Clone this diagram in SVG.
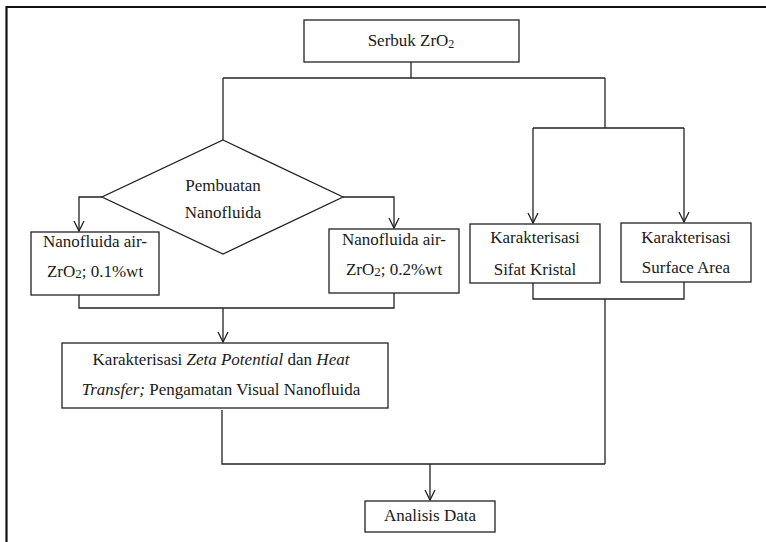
<svg xmlns="http://www.w3.org/2000/svg" width="766" height="542" viewBox="0 0 766 542">
<style>
  .box{fill:#fff;stroke:#222;stroke-width:1.3}
  .ln{fill:none;stroke:#222;stroke-width:1.3}
  .t{font-family:"Liberation Serif","Times New Roman",serif;font-size:17px;fill:#1a1a1a;text-anchor:middle}
  .i{font-style:italic}
  .frame{fill:none;stroke:#111;stroke-width:2.2}
</style>
<defs>
  <marker id="arr" markerUnits="userSpaceOnUse" markerWidth="14" markerHeight="14" viewBox="-12 -7 14 14" refX="0" refY="0" orient="auto">
    <path d="M-10,-5 L0,0 L-10,5" fill="none" stroke="#222" stroke-width="1.3"/>
  </marker>
</defs>
<rect width="766" height="542" fill="#fff"/>
<path class="frame" d="M6.5,542 V7 H766"/>

<g id="connectors">
  <path class="ln" d="M411,62 V78"/>
  <path class="ln" d="M223,78 H605"/>
  <path class="ln" d="M223,78 V140"/>
  <path class="ln" d="M605,78 V128"/>
  <path class="ln" d="M533,128 H684"/>
  <path class="ln" d="M533,128 V223" marker-end="url(#arr)"/>
  <path class="ln" d="M684,128 V222" marker-end="url(#arr)"/>
  <path class="ln" d="M102,197 H79 V231" marker-end="url(#arr)"/>
  <path class="ln" d="M343,197 H394 V228" marker-end="url(#arr)"/>
  <path class="ln" d="M79,295 V308 H394 V293"/>
  <path class="ln" d="M223,308 V342" marker-end="url(#arr)"/>
  <path class="ln" d="M533,283 V299 H684 V282"/>
  <path class="ln" d="M605,299 V464"/>
  <path class="ln" d="M222,410 V464 H605"/>
  <path class="ln" d="M430,464 V500" marker-end="url(#arr)"/>
</g>

<g id="serbuk">
  <rect class="box" x="304" y="20" width="215" height="42"/>
  <text class="t" x="411" y="46">Serbuk ZrO<tspan font-size="12" dy="2">2</tspan></text>
</g>

<g id="pembuatan">
  <polygon class="box" points="223,140 343,197 223,254 102,197"/>
  <text class="t" x="223" y="191">Pembuatan</text>
  <text class="t" x="223" y="218">Nanofluida</text>
</g>

<g id="nano01">
  <rect class="box" x="31" y="232" width="128" height="63"/>
  <text class="t" x="95" y="247">Nanofluida air-</text>
  <text class="t" x="95" y="277">ZrO<tspan font-size="13" dy="1">2</tspan><tspan dy="-1">; 0.1%wt</tspan></text>
</g>

<g id="nano02">
  <rect class="box" x="329" y="229" width="130" height="64"/>
  <text class="t" x="394" y="245">Nanofluida air-</text>
  <text class="t" x="394" y="275">ZrO<tspan font-size="13" dy="1">2</tspan><tspan dy="-1">; 0.2%wt</tspan></text>
</g>

<g id="sifat">
  <rect class="box" x="470" y="224" width="130" height="59"/>
  <text class="t" x="535" y="243">Karakterisasi</text>
  <text class="t" x="535" y="275">Sifat Kristal</text>
</g>

<g id="surface">
  <rect class="box" x="621" y="223" width="130" height="59"/>
  <text class="t" x="686" y="243">Karakterisasi</text>
  <text class="t" x="686" y="273">Surface Area</text>
</g>

<g id="zeta">
  <rect class="box" x="62" y="343" width="326" height="65"/>
  <text class="t" x="221" y="365">Karakterisasi <tspan class="i">Zeta Potential</tspan> dan <tspan class="i">Heat</tspan></text>
  <text class="t" x="221" y="395"><tspan class="i">Transfer;</tspan> Pengamatan Visual Nanofluida</text>
</g>

<g id="analisis">
  <rect class="box" x="365" y="501" width="130" height="31"/>
  <text class="t" x="430" y="521">Analisis Data</text>
</g>
</svg>
